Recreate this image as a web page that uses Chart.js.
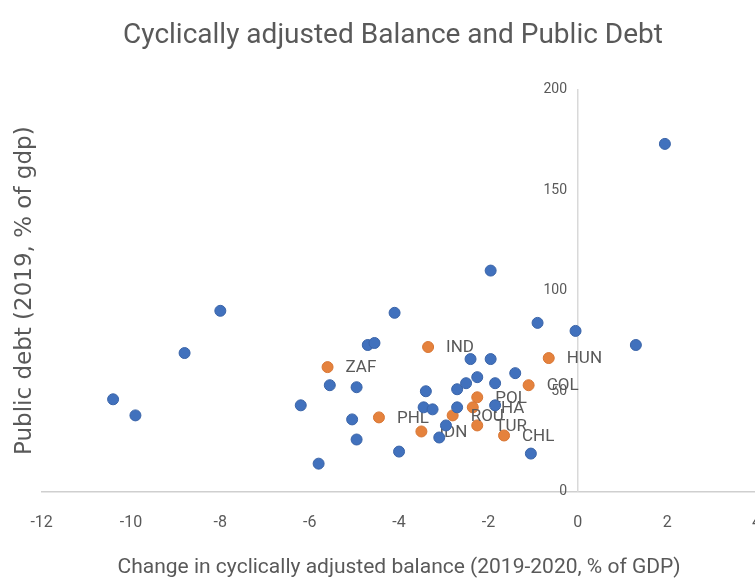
<!DOCTYPE html>
<html><head><meta charset="utf-8">
<script src="https://cdn.jsdelivr.net/npm/chart.js@4.4.1/dist/chart.umd.min.js"></script>
<style>
html,body{margin:0;padding:0;overflow:hidden;background:#fff;width:755px;height:581px}
#wrap{position:relative;width:775px;height:581px}
</style></head>
<body><div id="wrap"><canvas id="c" width="775" height="581"></canvas></div>
<script>
// Other economies (blue)
const otherX = [1.95,-10.4,-9.9,-8.8,-8.0,-6.2,-5.8,-5.55,-4.95,-5.05,-4.95,-4.7,-4.55,-4.1,-4.0,-3.4,-3.45,-3.25,-3.1,-2.95,-2.7,-2.7,-2.5,-2.25,-2.4,-1.95,-1.85,-1.85,-1.4,-1.05,-1.95,-0.9,-0.05,1.3];
const otherY = [173,46,38,69,90,43,14,53,52,36,26,73,74,89,20,50,42,41,27,33,51,42,54,57,66,66,54,43,59,19,110,84,80,73];
// Emerging markets (orange, labelled)
const emLabels = ["ZAF","IND","HUN","COL","PHL","IDN","POL","THA","ROU","TUR","CHL"];
const emX = [-5.6,-3.35,-0.65,-1.1,-4.45,-3.5,-2.25,-2.35,-2.8,-2.25,-1.65];
const emY = [62,72,66.5,53,37,30,47,42,38,33,28];
const xTicks = [-12,-10,-8,-6,-4,-2,0,2,4];
const yTicks = [0,50,100,150,200];

const titleText = "Cyclically adjusted Balance and Public Debt";
const xTitle = "Change in cyclically adjusted balance (2019-2020, % of GDP)";
const yTitle = "Public debt (2019, % of gdp)";

const GREY = "#595959";
const FONT = "Roboto, 'Liberation Sans', sans-serif";

const toPts = (xs, ys) => xs.map((x, i) => ({x: x, y: ys[i]}));

const labelPlugin = {
  id: 'emLabels',
  afterDatasetDraw(chart, args) {
    if (args.index !== 1) return;
    const ctx = chart.ctx;
    ctx.save();
    ctx.font = "17px " + FONT;
    ctx.fillStyle = GREY;
    ctx.textAlign = "left";
    ctx.textBaseline = "middle";
    args.meta.data.forEach((pt, i) => {
      ctx.fillText(emLabels[i], pt.x + 18, pt.y + 1);
    });
    ctx.restore();
  }
};

new Chart(document.getElementById('c'), {
  type: 'scatter',
  data: {
    datasets: [
      { label: 'Other', data: toPts(otherX, otherY), backgroundColor: '#4171BD', borderColor: '#3A64A8', borderWidth: 1, pointRadius: 5.5, yAxisID: 'y' },
      { label: 'EM', data: toPts(emX, emY), backgroundColor: '#E5823D', borderColor: '#D87634', borderWidth: 1, pointRadius: 5.5, yAxisID: 'y' }
    ]
  },
  options: {
    responsive: false,
    animation: false,
    devicePixelRatio: 1,
    layout: { padding: { left: 11, right: 0, top: 0, bottom: 0 } },
    plugins: {
      legend: { display: false },
      tooltip: { enabled: false },
      title: { display: true, text: titleText, color: GREY, font: { family: FONT, size: 28, weight: 'normal' }, padding: { top: 19, bottom: 37 } }
    },
    scales: {
      x: {
        type: 'linear', position: 'bottom', min: -12, max: 4,
        afterBuildTicks: s => { s.ticks = xTicks.map(v => ({value: v})); },
        ticks: { color: GREY, font: { family: FONT, size: 16 }, padding: 14 },
        grid: { display: false },
        border: { display: true, color: '#cfcfcf', width: 1.5 },
        title: { display: true, text: xTitle, color: GREY, font: { family: FONT, size: 21, lineHeight: 1 }, padding: { top: 10, bottom: 3 } }
      },
      y: {
        type: 'linear', position: { x: 0 }, min: 0, max: 200,
        ticks: { display: false },
        grid: { display: false },
        border: { display: true, color: '#d9d9d9', width: 1.5 }
      },
      yl: {
        type: 'linear', position: { x: -0.24 }, min: 0, max: 200,
        afterBuildTicks: s => { s.ticks = yTicks.map(v => ({value: v})); },
        ticks: { color: GREY, font: { family: FONT, size: 14 } },
        grid: { display: false },
        border: { display: false }
      },
      yt: {
        type: 'linear', position: 'left', min: 0, max: 200,
        ticks: { display: false },
        grid: { display: false, drawTicks: false },
        border: { display: false },
        title: { display: true, text: yTitle, color: GREY, font: { family: "'DejaVu Sans', sans-serif", size: 23 }, padding: { top: 0, bottom: 3 } }
      }
    }
  },
  plugins: [labelPlugin]
});
</script>
</body></html>
